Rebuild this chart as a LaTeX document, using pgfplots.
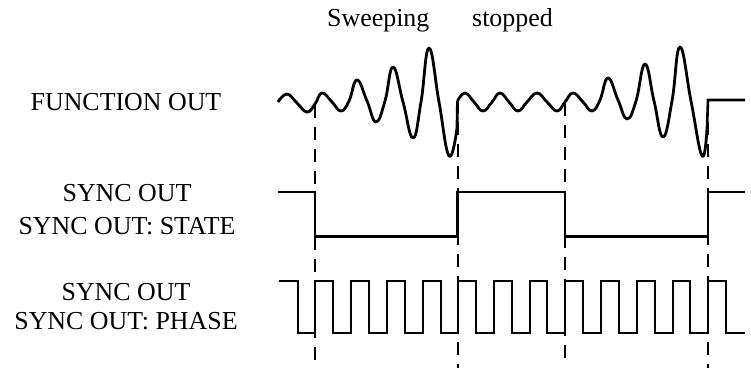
\documentclass[border=0pt]{standalone}
\usepackage{fontspec}
\setmainfont{Liberation Serif}
\usepackage{pgfplots}
\pgfplotsset{compat=1.18}
\newcommand\lbl{\fontsize{26}{31}\selectfont}
\begin{document}
\begin{tikzpicture}
\begin{axis}[at={(0,0)}, anchor=south west,
  width=751bp, height=376bp, scale only axis,
  xmin=0, xmax=751, ymin=0, ymax=376, y dir=reverse,
  hide axis, clip=false]
% dashed markers
\addplot[black, line width=2bp, dash pattern=on 13bp off 9bp] coordinates {(315,105) (315,362)};
\addplot[black, line width=2bp, dash pattern=on 13bp off 9bp] coordinates {(457.5,100) (457.5,368)};
\addplot[black, line width=2bp, dash pattern=on 13bp off 9bp] coordinates {(565,103) (565,360)};
\addplot[black, line width=2bp, dash pattern=on 13bp off 9bp] coordinates {(708,100) (708,368)};
% FUNCTION OUT: sweep 1
\addplot[black, line width=2.8bp, smooth, tension=0.75, line join=round] coordinates {
 (278,102) (287,94) (297,103) (307,112) (315,104) (322,93) (332,102) (341,111)
 (349,101) (357,80) (367,101) (376,122) (385,101) (393,67) (403,102) (413,138)
 (421,102) (429,48) (439,102) (449,156) (457,128)};
\addplot[black, line width=2.8bp, line join=round] coordinates {(457,128) (457.5,101)};
% FUNCTION OUT: stopped, then sweep 2
\addplot[black, line width=2.8bp, smooth, tension=0.75, line join=round] coordinates {
 (457.5,101) (465,93) (474,102) (483,111) (492,102) (500,93) (509,102) (518,111)
 (527,102) (537,93) (547,102) (557,111) (565,102) (573,93) (583,102) (592,111)
 (600,100) (608,78) (618,100) (627,119) (636,101) (645,64) (654,101) (663,137)
 (672,101) (680,47) (691,101) (702,156) (707,128)};
\addplot[black, line width=2.6bp] coordinates {(707,128) (708,100) (745,100)};
% SYNC OUT: STATE
\addplot[black, line width=2.4bp] coordinates {
 (278,192) (315,192) (315,236.5) (457.5,236.5) (457.5,192) (565,192)
 (565,236.5) (708,236.5) (708,192) (745,192)};
% SYNC OUT: PHASE
\addplot[black, line width=2.4bp] coordinates {
 (279,281) (298,281) (298,333) (315,333) (315,281) (333,281) (333,333)
 (351,333) (351,281) (369,281) (369,333) (387,333) (387,281) (405,281)
 (405,333) (423,333) (423,281) (441,281) (441,333) (458,333) (458,281)
 (476,281) (476,333) (494,333) (494,281) (512,281) (512,333) (530,333)
 (530,281) (547,281) (547,333) (565,333) (565,281) (583,281) (583,333)
 (601,333) (601,281) (619,281) (619,333) (637,333) (637,281) (655,281)
 (655,333) (673,333) (673,281) (690,281) (690,333) (708,333) (708,281)
 (726,281) (726,333) (745,333)};
% labels
\node[anchor=base, font=\lbl] at (axis cs:126,110.7) {FUNCTION OUT};
\node[anchor=base, font=\lbl] at (axis cs:127,201.7) {SYNC OUT};
\node[anchor=base, font=\lbl] at (axis cs:127,234) {SYNC OUT: STATE};
\node[anchor=base, font=\lbl] at (axis cs:126,300) {SYNC OUT};
\node[anchor=base, font=\lbl] at (axis cs:126,329) {SYNC OUT: PHASE};
\node[anchor=base west, font=\lbl, inner sep=0pt] at (axis cs:327,27) {Sweeping};
\node[anchor=base west, font=\lbl, inner sep=0pt] at (axis cs:472,27) {stopped};
\end{axis}
\pgfresetboundingbox
\useasboundingbox (0,0) rectangle (751bp,376bp);
\end{tikzpicture}
\end{document}
